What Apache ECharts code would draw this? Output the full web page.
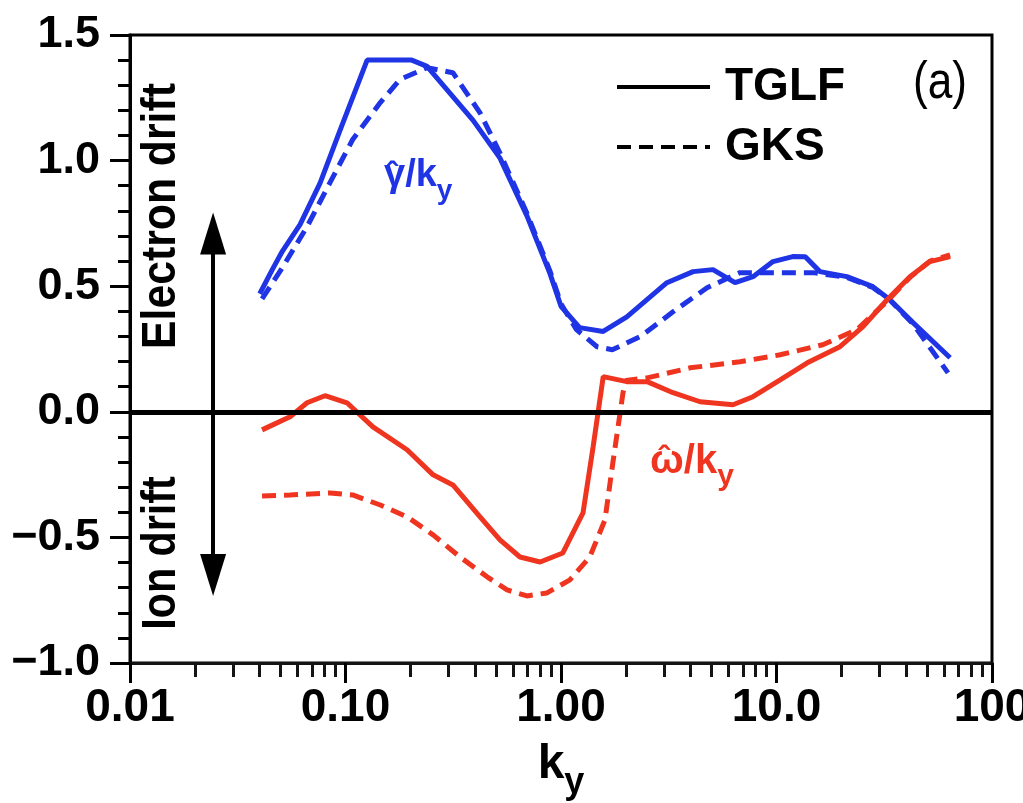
<!DOCTYPE html>
<html><head><meta charset="utf-8">
<script src="https://cdn.jsdelivr.net/npm/echarts@6/dist/echarts.min.js"></script>
<style>html,body{margin:0;padding:0;background:#fff}#c{width:1023px;height:803px}</style>
</head><body><div id="c"></div>
<script>
// ---- data ----
const xTickLabels = ['0.01', '0.10', '1.00', '10.0', '100'];
const yTickLabels = ['\u22121.0', '\u22120.5', '0.0', '0.5', '1.0', '1.5'];
const minorXTicks = [0.02,0.03,0.04,0.05,0.06,0.07,0.08,0.09,0.2,0.3,0.4,0.5,0.6,0.7,0.8,0.9,2,3,4,5,6,7,8,9,20,30,40,50,60,70,80,90];

const tglfGammaK = [0.040,0.046,0.051,0.0615,0.0762,0.0943,0.126,0.203,0.239,0.391,0.521,0.695,0.889,1.0,1.22,1.57,2.02,3.10,4.10,5.07,6.42,7.78,9.63,11.9,13.6,15.9,21.2,28.0,33.6,43.0,63.9];
const tglfGammaV = [0.47,0.57,0.64,0.745,0.91,1.12,1.40,1.40,1.375,1.16,1.01,0.78,0.55,0.42,0.335,0.32,0.378,0.514,0.558,0.566,0.514,0.538,0.598,0.618,0.617,0.558,0.538,0.498,0.446,0.355,0.215];

const gksGammaK = [0.041,0.0513,0.0663,0.0847,0.108,0.145,0.179,0.239,0.315,0.421,0.521,0.695,0.889,1.0,1.18,1.47,1.73,2.33,3.31,4.76,6.77,9.63,14.8,21.2,28.0,33.6,43.0,62.5];
const gksGammaV = [0.45,0.578,0.737,0.912,1.084,1.231,1.323,1.37,1.35,1.19,1.03,0.79,0.56,0.43,0.327,0.259,0.247,0.299,0.398,0.494,0.554,0.554,0.554,0.535,0.495,0.445,0.35,0.155];

const tglfOmegaK = [0.041,0.0553,0.0663,0.0803,0.1016,0.134,0.193,0.255,0.315,0.421,0.521,0.645,0.80,1.02,1.265,1.41,1.57,2.02,2.51,3.31,4.42,6.28,7.78,10.4,13.9,19.7,25.2,32.6,41.6,51.5,63.9];
const tglfOmegaV = [-0.072,-0.02,0.036,0.064,0.036,-0.06,-0.151,-0.251,-0.291,-0.418,-0.51,-0.578,-0.598,-0.562,-0.402,-0.139,0.14,0.12,0.12,0.076,0.04,0.028,0.06,0.127,0.195,0.259,0.339,0.446,0.538,0.598,0.618];

const gksOmegaK = [0.041,0.0553,0.0847,0.108,0.145,0.193,0.255,0.34,0.454,0.562,0.695,0.861,1.10,1.36,1.60,1.74,1.94,2.0,2.51,3.97,6.77,10.4,16.4,23.6,32.6,41.6,51.5,63.9];
const gksOmegaV = [-0.335,-0.331,-0.323,-0.331,-0.371,-0.418,-0.49,-0.578,-0.657,-0.709,-0.733,-0.721,-0.669,-0.578,-0.43,-0.203,0.076,0.125,0.135,0.175,0.199,0.227,0.267,0.327,0.44,0.535,0.6,0.625];

const arrowK = 0.0243;
const arrowTop = 0.71;
const arrowBottom = -0.65;

// ---- chart ----
const F = "'Liberation Sans',Arial,sans-serif";
const BLUE = '#1f34e4', RED = '#ef3420';
const TICK = '#141414';
const zip = (a, b) => a.map((v, i) => [v, b[i]]);
const dash = [14, 8];

const chart = echarts.init(document.getElementById('c'), null, {renderer: 'canvas'});
const option = {
  backgroundColor: '#fff',
  animation: false,
  grid: {left: 130, right: 31, top: 35, bottom: 140, show: true, borderColor: '#000', borderWidth: 3,
    backgroundColor: 'transparent', outerBoundsMode: 'none', containLabel: false},
  legend: {
    data: ['TGLF', 'GKS'], orient: 'vertical', left: 615, top: 64, padding: 0,
    itemWidth: 93, itemHeight: 20, itemGap: 14, selectedMode: false,
    lineStyle: {width: 4},
    itemStyle: {opacity: 0, color: 'transparent', borderWidth: 0},
    textStyle: {fontFamily: F, fontWeight: 'bold', fontSize: 46, color: '#000', padding: [0, 0, 0, 10]}
  },
  xAxis: [{
    type: 'log', logBase: 10, min: 0.01, max: 100, position: 'bottom',
    axisLine: {onZero: false, lineStyle: {color: '#000', width: 3}},
    axisTick: {length: 20, lineStyle: {color: '#000', width: 3}},
    minorTick: {show: true, splitNumber: 9, length: 8, lineStyle: {color: TICK, width: 3}},
    splitLine: {show: false},
    axisLabel: {
      formatter: v => xTickLabels[Math.round(Math.log10(v)) + 2],
      fontFamily: F, fontWeight: 'bold', fontSize: 46, color: '#000', margin: 22
    },
    name: '{k|k}{s|y}', nameLocation: 'middle', nameGap: 78,
    nameTextStyle: {rich: {
      k: {fontFamily: F, fontWeight: 'bold', fontSize: 48, color: '#000', verticalAlign: 'bottom', padding: [0, 0, 12, 0]},
      s: {fontFamily: F, fontWeight: 'bold', fontSize: 36, color: '#000', verticalAlign: 'bottom'}
    }}
  }, {
    type: 'value', min: -2, max: 2, position: 'bottom', gridIndex: 0, show: true,
    axisLine: {show: true, onZero: false, lineStyle: {color: TICK, width: 3}},
    axisLabel: {show: false}, splitLine: {show: false},
    axisTick: {show: true, length: 14, lineStyle: {color: TICK, width: 3}, customValues: minorXTicks.map(v => Math.log10(v))}
  }],
  yAxis: {
    type: 'value', min: -1, max: 1.5, interval: 0.5,
    axisLine: {onZero: false, lineStyle: {color: '#000', width: 3}},
    axisTick: {length: 20, lineStyle: {color: '#000', width: 3}},
    minorTick: {show: true, splitNumber: 5, length: 12, lineStyle: {color: '#000', width: 3}},
    splitLine: {show: false}, minorSplitLine: {show: false},
    axisLabel: {
      formatter: v => yTickLabels[Math.round((v + 1) / 0.5)],
      fontFamily: F, fontWeight: 'bold', fontSize: 45, color: '#000', margin: 30, padding: [0, 0, 10, 0]
    }
  },
  series: [
    {name: 'TGLF', type: 'line', data: [], symbol: 'none', itemStyle: {color: '#000'}, lineStyle: {color: '#000', width: 4}},
    {name: 'GKS', type: 'line', data: [], symbol: 'none', itemStyle: {color: '#000'}, lineStyle: {color: '#000', width: 4, type: dash}},
    {name: 'minorAxisHolder', type: 'line', xAxisIndex: 1, data: [], symbol: 'none'},
    {name: 'gammaTGLF', type: 'line', data: zip(tglfGammaK, tglfGammaV), symbol: 'none', lineStyle: {color: BLUE, width: 5}, itemStyle: {color: BLUE}, z: 3,
      markLine: {silent: true, animation: false, label: {show: false}, data: [
        {yAxis: 0, symbol: 'none', lineStyle: {color: '#000', width: 5, type: 'solid'}},
        [{coord: [arrowK, arrowTop], symbol: 'triangle', symbolSize: [26, 42]}, {coord: [arrowK, arrowBottom], symbol: 'triangle', symbolSize: [26, 42], lineStyle: {color: '#000', width: 4, type: 'solid'}}]
      ], lineStyle: {color: '#000', width: 4, type: 'solid'}, itemStyle: {color: '#000'}, symbol: ['none', 'none']}
    },
    {name: 'gammaGKS', type: 'line', data: zip(gksGammaK, gksGammaV), symbol: 'none', lineStyle: {color: BLUE, width: 5, type: dash}, itemStyle: {color: BLUE}, z: 3},
    {name: 'omegaTGLF', type: 'line', data: zip(tglfOmegaK, tglfOmegaV), symbol: 'none', lineStyle: {color: RED, width: 5}, itemStyle: {color: RED}, z: 3},
    {name: 'omegaGKS', type: 'line', data: zip(gksOmegaK, gksOmegaV), symbol: 'none', lineStyle: {color: RED, width: 5, type: dash}, itemStyle: {color: RED}, z: 3}
  ],
  graphic: [
    {type: 'text', x: 162, y: 216, rotation: Math.PI / 2, scaleX: 0.89,
      style: {text: 'Electron drift', fontFamily: F, fontWeight: 'bold', fontSize: 48, fill: '#000', align: 'center', verticalAlign: 'middle'}},
    {type: 'text', x: 162, y: 553, rotation: Math.PI / 2, scaleX: 0.86,
      style: {text: 'Ion drift', fontFamily: F, fontWeight: 'bold', fontSize: 48, fill: '#000', align: 'center', verticalAlign: 'middle'}},
    {type: 'text', x: 940, y: 84, scaleX: 0.85,
      style: {text: '(a)', fontFamily: F, fontWeight: 'normal', fontSize: 52, fill: '#000', align: 'center', verticalAlign: 'middle'}},
    {type: 'text', x: 384, y: 205,
      style: {text: '{g|\u03B3/k}{s|y}', align: 'left', verticalAlign: 'bottom', rich: {
        g: {fontFamily: F, fontWeight: 'bold', fontSize: 38, fill: BLUE, verticalAlign: 'bottom', padding: [0, 0, 10, 0]},
        s: {fontFamily: F, fontWeight: 'bold', fontSize: 28, fill: BLUE, verticalAlign: 'bottom'}
      }}},
    {type: 'text', x: 392, y: 176,
      style: {text: '\u02C6', fontFamily: F, fontWeight: 'bold', fontSize: 34, fill: BLUE, align: 'center', verticalAlign: 'middle'}},
    {type: 'text', x: 650, y: 492,
      style: {text: '{g|\u03C9/k}{s|y}', align: 'left', verticalAlign: 'bottom', rich: {
        g: {fontFamily: F, fontWeight: 'bold', fontSize: 40, fill: RED, verticalAlign: 'bottom', padding: [0, 0, 10, 0]},
        s: {fontFamily: F, fontWeight: 'bold', fontSize: 30, fill: RED, verticalAlign: 'bottom'}
      }}},
    {type: 'text', x: 664, y: 460,
      style: {text: '\u02C6', fontFamily: F, fontWeight: 'bold', fontSize: 34, fill: RED, align: 'center', verticalAlign: 'middle'}}
  ]
};
chart.setOption(option);
</script>
</body></html>
